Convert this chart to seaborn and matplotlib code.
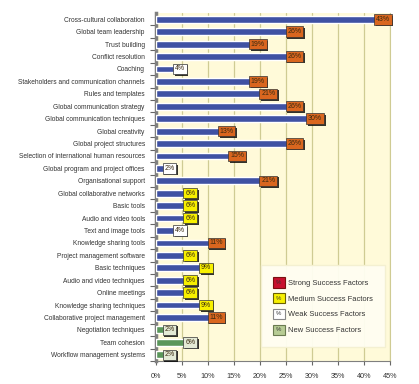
import matplotlib
matplotlib.use("Agg")
import matplotlib.pyplot as plt
import seaborn as sns
import pandas as pd
from matplotlib.patches import Rectangle, Patch
from matplotlib.text import Text
from matplotlib.legend_handler import HandlerPatch
from matplotlib import patheffects as pe

factors = [
    "Cross-cultural collaboration", "Global team leadership", "Trust building",
    "Conflict resolution", "Coaching", "Stakeholders and communication channels",
    "Rules and templates", "Global communication strategy",
    "Global communication techniques", "Global creativity",
    "Global project structures", "Selection of international human resources",
    "Global program and project offices", "Organisational support",
    "Global collaborative networks", "Basic tools", "Audio and video tools",
    "Text and image tools", "Knowledge sharing tools",
    "Project management software", "Basic techniques",
    "Audio and video techniques", "Online meetings",
    "Knowledge sharing techniques", "Collaborative project management",
    "Negotiation techniques", "Team cohesion", "Workflow management systems",
]
values = [43, 26, 19, 26, 4, 19, 21, 26, 30, 13, 26, 15, 2, 21,
          6, 6, 6, 4, 11, 6, 9, 6, 6, 9, 11, 2, 6, 2]
strength = ["Strong", "Strong", "Strong", "Strong", "Weak", "Strong", "Strong",
            "Strong", "Strong", "Strong", "Strong", "Strong", "Weak", "Strong",
            "Medium", "Medium", "Medium", "Weak", "Strong", "Medium", "Medium",
            "Medium", "Medium", "Medium", "Strong", "New", "New", "New"]
bar_group = ["New" if s == "New" else "Existing" for s in strength]
x_ticks = [0, 5, 10, 15, 20, 25, 30, 35, 40, 45]
legend_labels = ["Strong Success Factors", "Medium Success Factors",
                 "Weak Success Factors", "New Success Factors"]

df = pd.DataFrame({"factor": factors, "value": values,
                   "strength": strength, "group": bar_group})

sns.set_style("white")
plt.rcParams["font.family"] = ["Liberation Sans", "DejaVu Sans"]

fig = plt.figure(figsize=(4.19, 3.84), dpi=100)
ax = fig.add_axes([0.372, 0.060, 0.559, 0.906])
ax.set_facecolor("#FFFAD9")

sns.barplot(data=df, x="value", y="factor", hue="group",
            palette={"Existing": "#3F51A3", "New": "#5A965A"},
            dodge=False, width=0.55, saturation=1, legend=False, ax=ax,
            zorder=3)

ax.set_xlim(0, 45)
ax.set_ylim(len(factors) - 0.5, -0.5)
ax.set_xticks(x_ticks)
ax.set_xticklabels([f"{t}%" for t in x_ticks], fontsize=5.2, color="#333333")
ax.set_yticks(range(len(factors)))
ax.set_yticklabels(factors, fontsize=4.8, color="#333333")
ax.set_yticks([i + 0.5 for i in range(0, len(factors))], minor=True)
ax.tick_params(axis="y", which="major", length=0, pad=8)
ax.tick_params(axis="y", which="minor", length=4, width=0.8, color="#666666", left=True)
ax.tick_params(axis="x", length=3, width=0.8, color="#666666", bottom=True, pad=6)
ax.set_xlabel("")
ax.set_ylabel("")

ax.grid(axis="x", color="#CFCB93", linewidth=0.9, zorder=0)
ax.set_axisbelow(True)
ax.spines["top"].set_visible(False)
ax.spines["right"].set_color("#CFCB93")
ax.spines["left"].set_color("#7F7F7F")
ax.spines["left"].set_linewidth(2.5)
ax.spines["bottom"].set_color("#7F7F7F")
ax.spines["bottom"].set_linewidth(0.8)

box_colors = {"Strong": "#D9661F", "Medium": "#F7F000",
              "Weak": "#FFFFFF", "New": "#E4EAD6"}
for i, (v, s) in enumerate(zip(values, strength)):
    t = ax.text(v + 0.6, i, f"{v}%", ha="center", va="center", fontsize=5,
                color="#3A2A10", zorder=5,
                bbox=dict(boxstyle="square,pad=0.25", fc=box_colors[s],
                          ec="#333333", lw=0.5))
    t.get_bbox_patch().set_path_effects(
        [pe.SimplePatchShadow(offset=(1.2, -1.2), shadow_rgbFace="black", alpha=0.8),
         pe.Normal()])

legend_face = ["#C8102E", "#F7F000", "#FFFFFF", "#B7CC94"]
legend_edge = ["#7A1010", "#6B6000", "#888888", "#6A7A50"]


class PctHandler(HandlerPatch):
    def create_artists(self, legend, orig_handle, xdescent, ydescent,
                       width, height, fontsize, trans):
        r = Rectangle((-xdescent, -ydescent), width, height,
                      fc=orig_handle.get_facecolor(),
                      ec=orig_handle.get_edgecolor(), lw=0.8, transform=trans)
        t = Text(-xdescent + width / 2, -ydescent + height / 2, "%",
                 ha="center", va="center", fontsize=fontsize * 0.8,
                 color="#333333", transform=trans)
        return [r, t]


handles = [Patch(facecolor=f, edgecolor=e, label=l)
           for f, e, l in zip(legend_face, legend_edge, legend_labels)]
leg = ax.legend(handles=handles, loc="lower right",
                bbox_to_anchor=(0.995, 0.03), fontsize=5.4,
                handler_map={Patch: PctHandler()},
                handlelength=1.6, handleheight=1.7, handletextpad=0.5,
                labelspacing=0.75, borderpad=1.6, frameon=True,
                fancybox=False, labelcolor="#333333")
leg.get_frame().set_facecolor("#FFFEF2")
leg.get_frame().set_edgecolor("#F4F0D0")
leg.get_frame().set_alpha(0.95)
leg.set_zorder(6)

fig.savefig("out.png", dpi=100)
